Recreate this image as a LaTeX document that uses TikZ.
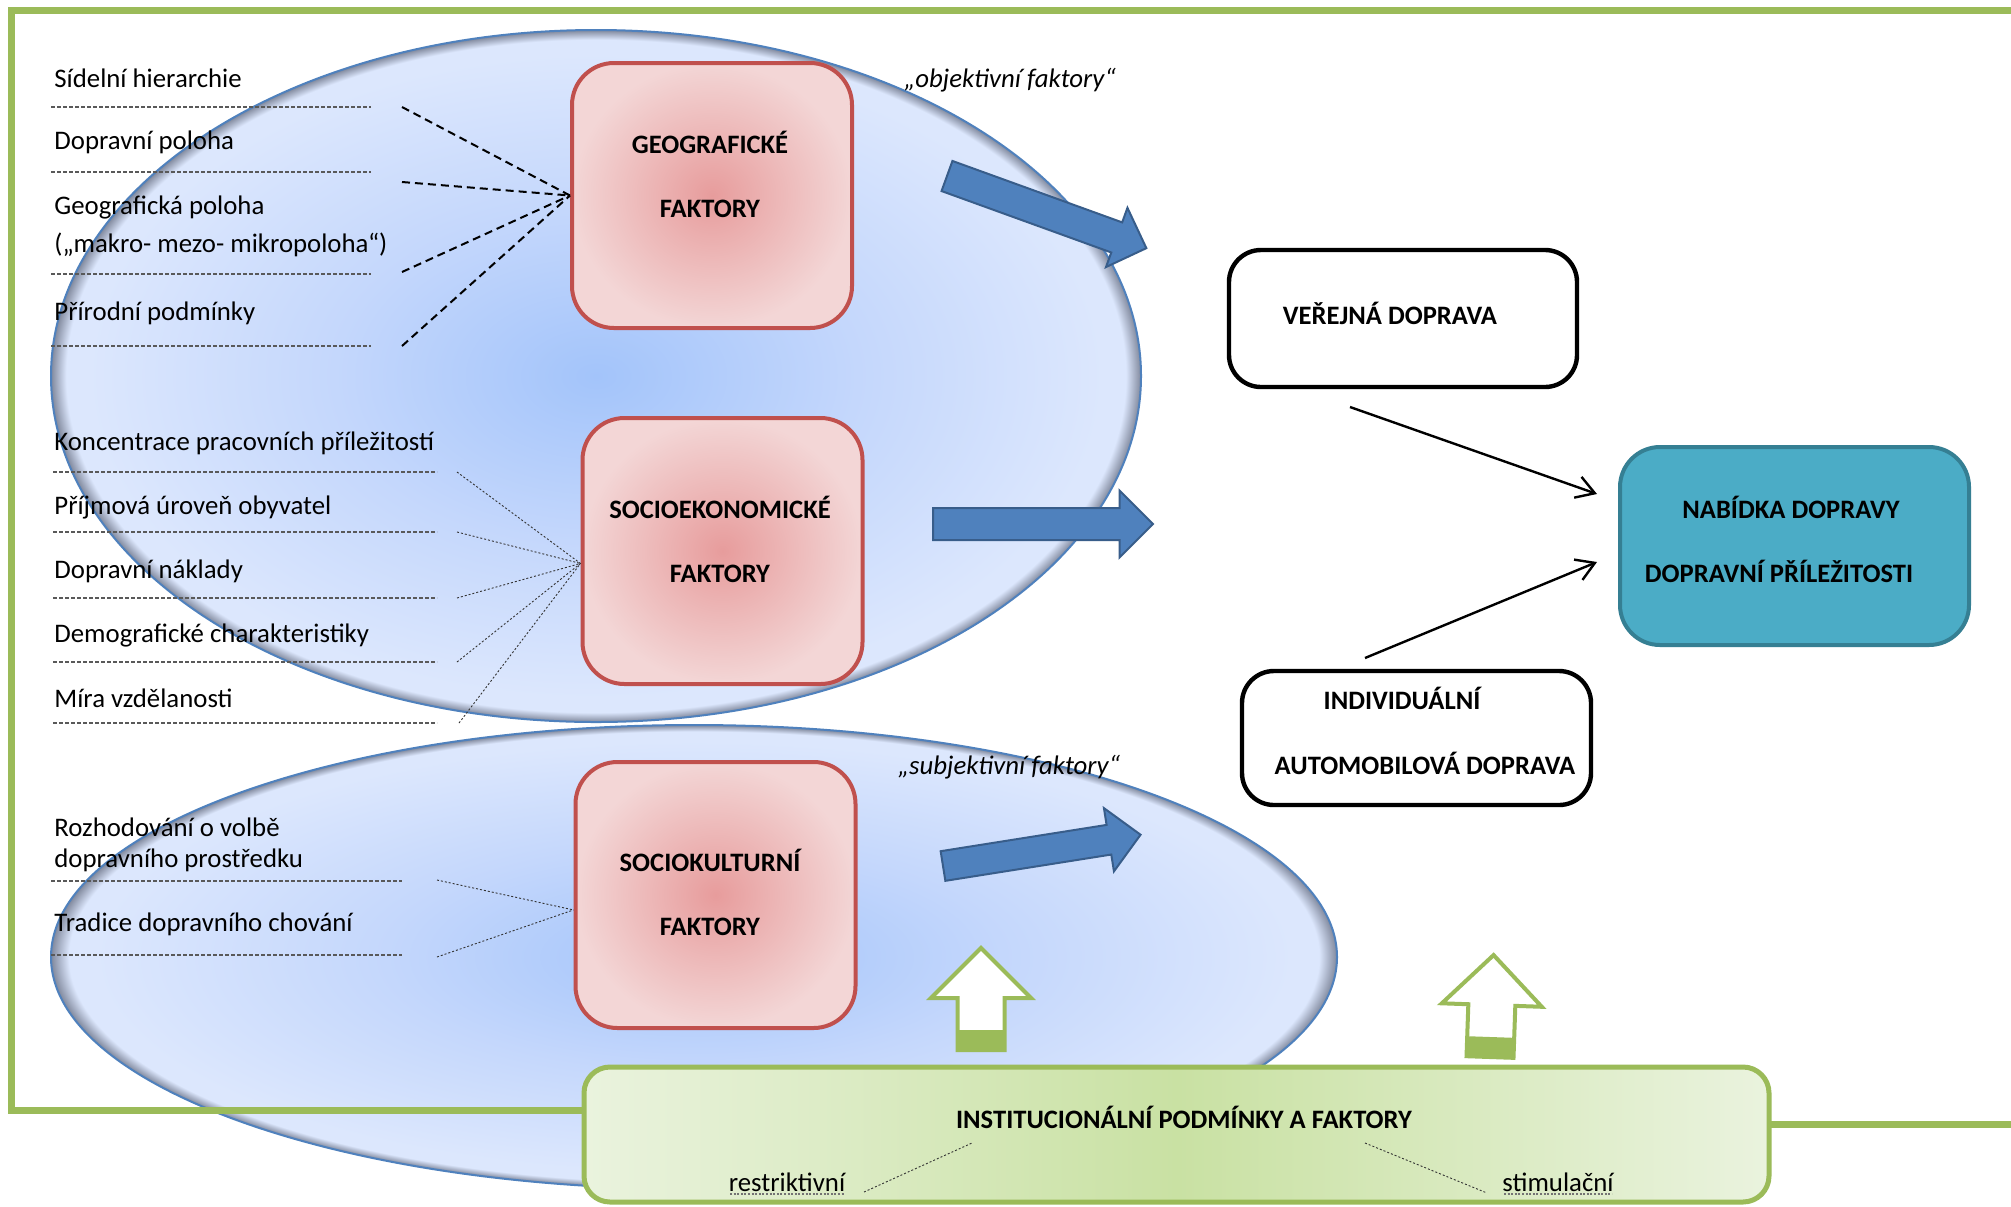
\documentclass[tikz,border=0pt]{standalone}
\usepackage{fontspec}
\setmainfont{Carlito}
\usetikzlibrary{shapes.geometric,arrows.meta}
\definecolor{ogreen}{HTML}{9BBB59}
\definecolor{oblue}{HTML}{4F81BD}
\definecolor{oblued}{HTML}{385D8A}
\definecolor{ored}{HTML}{C0504D}
\definecolor{oteal}{HTML}{4BACC6}
\definecolor{otealb}{HTML}{357F93}
\definecolor{ellin}{RGB}{163,196,250}
\definecolor{ellmid}{RGB}{196,215,252}
\definecolor{ellout}{RGB}{220,231,253}
\definecolor{ellrim}{RGB}{128,136,156}
\definecolor{redin}{RGB}{231,156,156}
\definecolor{redout}{RGB}{243,214,214}
\definecolor{grin}{RGB}{201,225,163}
\definecolor{grout}{RGB}{234,243,222}
\newlength{\pxu}\setlength{\pxu}{0.5pt}
\pgfdeclareradialshading{ellshade}{\pgfpoint{0bp}{0bp}}{%
 color(0bp)=(ellin); color(12bp)=(ellmid); color(23.3bp)=(ellout); color(24.3bp)=(ellout); color(25bp)=(ellrim); color(50bp)=(ellrim)}
% block arrow: style, tail x, tail y, rotate, length, shaft half width, head half width
\newcommand{\myblockarrow}[7]{%
 \begin{scope}[shift={(#2,#3)}, rotate=#4]
 \draw[#1] (0,-#6) -- ({#5-#7},-#6) -- ({#5-#7},-#7) -- (#5,0) -- ({#5-#7},#7) -- ({#5-#7},#6) -- (0,#6) -- cycle;
 \end{scope}}
\newcommand{\mygreenarrow}[3]{%
 \begin{scope}[shift={(#1,#2)}, rotate=#3]
 \fill[white] (0,-23.5) -- (52,-23.5) -- (52,-50) -- (102,0) -- (52,50) -- (52,23.5) -- (0,23.5) -- cycle;
 \fill[ogreen] (0,-23.5) rectangle (20,23.5);
 \draw[ogreen, line width=2pt, line join=miter] (0,-23.5) -- (52,-23.5) -- (52,-50) -- (102,0) -- (52,50) -- (52,23.5) -- (0,23.5) -- cycle;
 \end{scope}}
\begin{document}
\begin{tikzpicture}[x=0.5pt,y=-0.5pt, font=\fontsize{13.4}{16}\selectfont,
 frame/.style={draw=ogreen, line width=3.5pt, line join=miter},
 ell/.style={ellipse, draw=oblue, line width=1pt, shading=ellshade, inner sep=0pt},
 lefttxt/.style={anchor=west, inner sep=0pt},
 uline/.style={draw=black!65, line width=0.6pt, dash pattern=on 2pt off 1pt},
 geodash/.style={draw=black, line width=1pt, dash pattern=on 4pt off 2.5pt},
 thindot/.style={draw=black!80, line width=0.45pt, dash pattern=on 1pt off 1pt},
 redbox/.style={draw=ored, line width=2pt, rounded corners=21pt, shading=radial, inner color=redin, outer color=redout, minimum width=280\pxu, minimum height=265\pxu, inner sep=0pt},
 btxt/.style={font=\fontsize{13.3}{32}\selectfont\bfseries, align=center, inner sep=0pt},
 itxt/.style={font=\fontsize{13.4}{16}\selectfont\itshape, inner sep=0pt},
 blackbox/.style={draw=black, line width=2.2pt, rounded corners=16pt, fill=white, inner sep=0pt},
 conn/.style={draw=black, line width=1.2pt, -{Straight Barb[length=9pt,width=11pt]}},
 barrow/.style={fill=oblue, draw=oblued, line width=1pt, line join=miter}
]
\useasboundingbox (0,0) rectangle (2011,1206);
\fill[white] (0,0) rectangle (2011,1206);

% ellipses
\node[ell, minimum width=1286\pxu, minimum height=464\pxu] (e2) at (694,957) {};
\node[ell, minimum width=1090\pxu, minimum height=692\pxu] (e1) at (596,376) {};

% green frame
\draw[frame] (2011,10) -- (11,10) -- (11,1110) -- (584,1110);
\draw[frame] (1769,1124) -- (2011,1124);

% left texts
\node[lefttxt] (t1) at (54,78) {Sídelní hierarchie};
\node[lefttxt] (t2) at (54,142) {Dopravní poloha};
\node[lefttxt] (t3) at (54,207) {Geografická poloha};
\node[lefttxt] (t3b) at (54,245) {(„makro- mezo- mikropoloha“)};
\node[lefttxt] (t4) at (54,313) {Přírodní podmínky};
\node[lefttxt] (s1) at (54,443) {Koncentrace pracovních příležitostí};
\node[lefttxt] (s2) at (54,507) {Příjmová úroveň obyvatel};
\node[lefttxt] (s3) at (54,571) {Dopravní náklady};
\node[lefttxt] (s4) at (54,635) {Demografické charakteristiky};
\node[lefttxt] (s5) at (54,698) {Míra vzdělanosti};
\node[lefttxt] (k1) at (54,827) {Rozhodování o volbě};
\node[lefttxt] (k1b) at (54,860) {dopravního prostředku};
\node[lefttxt] (k2) at (54,924) {Tradice dopravního chování};

% underlines
\foreach \yy in {107,172,274,346} \draw[uline] (51,\yy) -- (371,\yy);
\foreach \yy in {472,532,598,662,723} \draw[uline] (53,\yy) -- (437,\yy);
\foreach \yy in {881,955} \draw[uline] (51,\yy) -- (402,\yy);

% red boxes
\node[redbox] (geo) at (712,195.5) {};
\node[btxt] (geoT) at (710,174) {GEOGRAFICKÉ\\FAKTORY};
\node[redbox, minimum height=266\pxu] (socio) at (722.5,551) {};
\node[btxt] (socioT) at (720,539) {SOCIOEKONOMICKÉ\\FAKTORY};
\node[redbox, minimum height=266\pxu] (cult) at (715.5,895) {};
\node[btxt] (cultT) at (710,892) {SOCIOKULTURNÍ\\FAKTORY};

% connectors to red boxes
\coordinate (gd1) at (402,107);
\coordinate (gd2) at (402,182);
\coordinate (gd3) at (402,272);
\coordinate (gd4) at (402,346);
\foreach \c in {gd1,gd2,gd3,gd4} \draw[geodash] (\c) -- (geo.west);
\coordinate (sd1) at (457,472);
\coordinate (sd2) at (457,532);
\coordinate (sd3) at (457,598);
\coordinate (sd4) at (457,662);
\coordinate (sd5) at (459,723);
\foreach \c in {sd1,sd2,sd3,sd4,sd5} \draw[thindot] (\c) -- (socio.185);
\coordinate (cd1) at (437,880);
\coordinate (cd2) at (437,957);
\foreach \c in {cd1,cd2} \draw[thindot] (\c) -- (cult.186);

% italic labels
\node[itxt] (objT) at (1010,80) {„objektivní faktory“};
\node[itxt] (subT) at (1009,767) {„subjektivní faktory“};

% blue block arrows
\myblockarrow{barrow}{947}{176}{-19.9}{212}{16}{31.5}
\myblockarrow{barrow}{933}{524}{0}{220}{16}{33.5}
\myblockarrow{barrow}{943}{866}{9}{200}{15}{32}

% right boxes
\node[blackbox, minimum width=348\pxu, minimum height=137\pxu] (ver) at (1403,318.5) {};
\node[btxt] (verT) at (1390,313) {VEŘEJNÁ DOPRAVA};
\node[blackbox, minimum width=349\pxu, minimum height=134\pxu] (ind) at (1416.5,738) {};
\node[btxt] (indT1) at (1402,698) {INDIVIDUÁLNÍ};
\node[btxt] (indT2) at (1425,763) {AUTOMOBILOVÁ DOPRAVA};
\node[draw=otealb, fill=oteal, line width=2pt, rounded corners=20pt, minimum width=349\pxu, minimum height=198\pxu, inner sep=0pt] (nab) at (1794.5,546) {};
\node[btxt] (nabT1) at (1791,507) {NABÍDKA DOPRAVY};
\node[btxt] (nabT2) at (1779,571) {DOPRAVNÍ PŘÍLEŽITOSTI};

% black connectors
\coordinate (c1s) at (1350,407);
\coordinate (c1e) at (1597,494);
\coordinate (c2s) at (1365,658);
\coordinate (c2e) at (1597,562);
\draw[conn] (c1s) -- (c1e);
\draw[conn] (c2s) -- (c2e);

% institutional box
\node[draw=ogreen, line width=2.5pt, rounded corners=13pt, left color=grout, right color=grout, middle color=grin, minimum width=1185\pxu, minimum height=135\pxu, inner sep=0pt] (inst) at (1176.5,1134.5) {};
\node[btxt] (instT) at (1184,1117) {INSTITUCIONÁLNÍ PODMÍNKY A FAKTORY};
\node[inner sep=0pt] (restr) at (787,1182) {restriktivní};
\node[inner sep=0pt] (stim) at (1558,1182) {stimulační};
\draw[draw=black!55, line width=1pt, dash pattern=on 1pt off 0.8pt] (730,1194) -- (845,1194);
\draw[draw=black!55, line width=1pt, dash pattern=on 1pt off 0.8pt] (1504,1194) -- (1612,1194);
\coordinate (r1) at (864,1192);
\coordinate (r2) at (972,1143);
\coordinate (s1a) at (1365,1143);
\coordinate (s2a) at (1487,1193);
\draw[thindot] (r1) -- (r2);
\draw[thindot] (s1a) -- (s2a);

% green up arrows
\mygreenarrow{981}{1050}{90}
\mygreenarrow{1490}{1057}{88}
\end{tikzpicture}
\end{document}
